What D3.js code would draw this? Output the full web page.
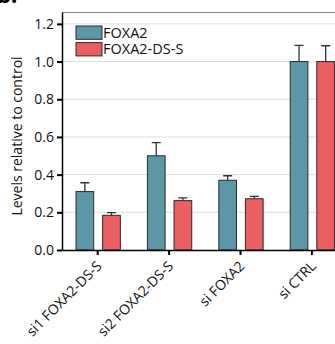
<!DOCTYPE html>
<html>
<head>
<meta charset="utf-8">
<script src="https://cdn.jsdelivr.net/npm/d3@7"></script>
<style>
  body { margin: 0; background: #fff; }
  svg { font-family: "Open Sans", sans-serif; }
</style>
</head>
<body>
<div id="chart"></div>
<script>

var categories = ["si1 FOXA2-DS-S", "si2 FOXA2-DS-S", "si FOXA2", "si CTRL"];
var seriesNames = ["FOXA2", "FOXA2-DS-S"];
var foxa2Values = [0.31, 0.50, 0.37, 1.00];
var foxa2Errors = [0.047, 0.07, 0.024, 0.086];
var dsValues = [0.184, 0.262, 0.272, 1.00];
var dsErrors = [0.014, 0.015, 0.013, 0.084];
var yTicks = [0, 0.2, 0.4, 0.6, 0.8, 1.0, 1.2];

var colors = { "FOXA2": "#5b97a6", "FOXA2-DS-S": "#eb5e61" };

var width = 335,
  height = 344,
  margin = {top: 12, left: 62, bottom: 94},
  plotBottom = height - margin.bottom,
  step = 71.4;

var data = categories.map(function(c, i) {
  return {
    cat: c,
    bars: [
      {name: "FOXA2", value: foxa2Values[i], err: foxa2Errors[i]},
      {name: "FOXA2-DS-S", value: dsValues[i], err: dsErrors[i]}
    ]
  };
});

var svg = d3.select("#chart").append("svg")
  .attr("width", width)
  .attr("height", height);

var x0 = d3.scaleBand()
  .domain(categories)
  .range([margin.left, margin.left + step * categories.length])
  .padding(0);

var x1 = d3.scaleBand()
  .domain(seriesNames)
  .range([x0.bandwidth() * 0.196, x0.bandwidth() * 0.817])
  .paddingInner(0.335);

var y = d3.scaleLinear()
  .domain([0, 1.263])
  .range([plotBottom, margin.top]);

// gridlines
svg.append("g")
  .selectAll("line")
  .data(yTicks.slice(1))
  .enter().append("line")
    .attr("x1", margin.left)
    .attr("x2", width)
    .attr("y1", function(d) { return y(d); })
    .attr("y2", function(d) { return y(d); })
    .attr("stroke", "#dedede")
    .attr("stroke-width", 1);

// top frame line
svg.append("line")
  .attr("x1", margin.left).attr("x2", width)
  .attr("y1", margin.top + 0.5).attr("y2", margin.top + 0.5)
  .attr("stroke", "#8a8a8a")
  .attr("stroke-width", 1.2);

// bars
var groups = svg.append("g").selectAll(".grp")
  .data(data)
  .enter().append("g")
    .attr("class", "grp")
    .attr("transform", function(d) { return "translate(" + x0(d.cat) + ",0)"; });

groups.selectAll(".err")
  .data(function(d) { return d.bars; })
  .enter().append("path")
    .attr("class", "err")
    .attr("d", function(d) {
      var cx = x1(d.name) + x1.bandwidth() / 2;
      var top = y(d.value + d.err);
      return "M" + cx + "," + y(d.value) + "V" + top + "M" + (cx - 4.5) + "," + top + "H" + (cx + 4.5);
    })
    .attr("fill", "none")
    .attr("stroke", "#333")
    .attr("stroke-width", 1.3);

groups.selectAll(".bar")
  .data(function(d) { return d.bars; })
  .enter().append("rect")
    .attr("class", "bar")
    .attr("x", function(d) { return x1(d.name); })
    .attr("y", function(d) { return y(d.value); })
    .attr("width", x1.bandwidth())
    .attr("height", function(d) { return plotBottom - y(d.value); })
    .attr("fill", function(d) { return colors[d.name]; })
    .attr("stroke", "#2b2b2b")
    .attr("stroke-width", 1);

// y axis
var yAxis = svg.append("g")
  .attr("transform", "translate(" + margin.left + ",0)")
  .call(d3.axisLeft(y).tickValues(yTicks).tickFormat(d3.format(".1f")).tickSize(5).tickSizeOuter(0).tickPadding(3));
yAxis.select(".domain").attr("stroke", "#000").attr("stroke-width", 1.5);
yAxis.selectAll(".tick line").attr("stroke", "#000").attr("stroke-width", 2);
yAxis.selectAll(".tick text").attr("font-size", 14).attr("fill", "#111")
  .attr("font-family", "Open Sans, sans-serif");

// x axis
var xAxis = svg.append("g")
  .attr("transform", "translate(0," + plotBottom + ")")
  .call(d3.axisBottom(x0).tickSize(5).tickSizeOuter(0).tickPadding(2));
xAxis.select(".domain").attr("stroke", "#000").attr("stroke-width", 1.5);
xAxis.selectAll(".tick line").attr("stroke", "#000").attr("stroke-width", 2);
xAxis.selectAll(".tick text")
  .attr("font-size", 14)
  .attr("fill", "#111")
  .attr("font-family", "Open Sans, sans-serif")
  .attr("text-anchor", "end")
  .attr("dy", null)
  .attr("y", 0)
  .attr("x", 0)
  .attr("transform", "translate(5,17) rotate(-45)");

// y label
svg.append("text")
  .attr("transform", "translate(22," + 136 + ") rotate(-90)")
  .attr("text-anchor", "middle")
  .attr("font-size", 14)
  .attr("fill", "#111")
  .text("Levels relative to control");

// legend
var legend = svg.append("g").selectAll(".leg")
  .data(seriesNames)
  .enter().append("g")
    .attr("class", "leg")
    .attr("transform", function(d, i) { return "translate(76," + (26 + i * 16.6) + ")"; });

legend.append("rect")
  .attr("width", 26)
  .attr("height", 13.3)
  .attr("fill", function(d) { return colors[d]; })
  .attr("stroke", "#2b2b2b")
  .attr("stroke-width", 1);

legend.append("text")
  .attr("x", 27)
  .attr("y", 11.5)
  .attr("font-size", 14.5)
  .attr("fill", "#111")
  .text(function(d) { return d; });

// panel letter, cut off at the top
svg.append("text")
  .attr("x", -3)
  .attr("y", 3)
  .attr("font-size", 22)
  .attr("font-weight", "bold")
  .attr("fill", "#000")
  .text("b.");

</script>
</body>
</html>
